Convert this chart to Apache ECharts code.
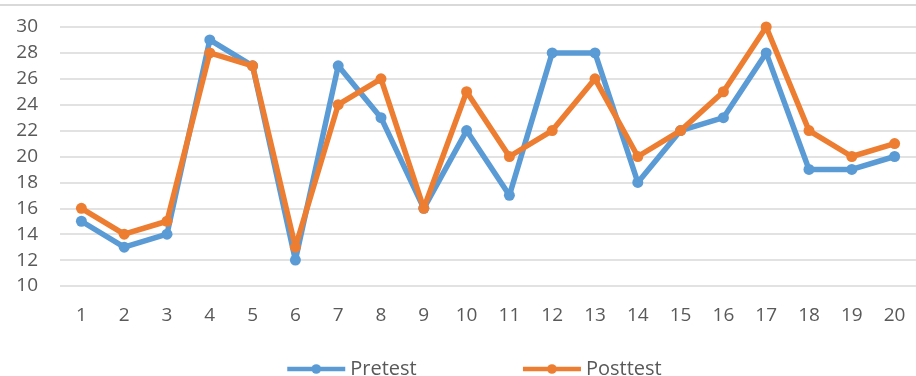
<!DOCTYPE html>
<html>
<head>
<meta charset="utf-8">
<script src="https://cdn.jsdelivr.net/npm/echarts@6/dist/echarts.min.js"></script>
<style>
  html, body { margin: 0; padding: 0; background: #fff; }
  #chart { width: 916px; height: 376px; }
</style>
</head>
<body>
<div id="chart"></div>
<script>
// Participant numbers along the x axis
const categories = ['1','2','3','4','5','6','7','8','9','10','11','12','13','14','15','16','17','18','19','20'];
// Scores per participant
const pretest  = [15, 13, 14, 29, 27, 12, 27, 23, 16, 22, 17, 28, 28, 18, 22, 23, 28, 19, 19, 20];
const posttest = [16, 14, 15, 28, 27, 13, 24, 26, 16, 25, 20, 22, 26, 20, 22, 25, 30, 22, 20, 21];
const seriesNames = ['Pretest', 'Posttest'];

const chart = echarts.init(document.getElementById('chart'));
const labelFont = { color: '#595959', fontSize: 19, fontFamily: 'Open Sans' };

chart.setOption({
  animation: false,
  backgroundColor: '#fff',
  color: ['#5B9BD5', '#ED7D31'],
  graphic: [{
    type: 'line',
    shape: { x1: 0, y1: 5, x2: 916, y2: 5 },
    style: { stroke: '#d9d9d9', lineWidth: 2 }
  }],
  grid: { left: 60, right: -9, top: 27, bottom: 90 },
  legend: {
    top: 354,
    left: 280,
    itemWidth: 58,
    itemHeight: 12,
    itemGap: 104,
    lineStyle: { width: 4.5 },
    textStyle: { color: '#595959', fontSize: 20, fontFamily: 'Open Sans' },
    data: seriesNames
  },
  xAxis: {
    type: 'category',
    data: categories,
    boundaryGap: true,
    axisLine: { show: false },
    axisTick: { show: false },
    axisLabel: Object.assign({ margin: 20 }, labelFont)
  },
  yAxis: {
    type: 'value',
    min: 10,
    max: 30,
    interval: 2,
    axisLine: { show: false },
    axisTick: { show: false },
    axisLabel: Object.assign({ margin: 22 }, labelFont),
    splitLine: { lineStyle: { color: '#d9d9d9', width: 1.5 } }
  },
  series: [
    {
      name: seriesNames[0],
      type: 'line',
      data: pretest,
      symbol: 'circle',
      symbolSize: 11,
      lineStyle: { width: 5.5 },
      z: 2
    },
    {
      name: seriesNames[1],
      type: 'line',
      data: posttest,
      symbol: 'circle',
      symbolSize: 11,
      lineStyle: { width: 5.5 },
      z: 3
    }
  ]
});
</script>
</body>
</html>
